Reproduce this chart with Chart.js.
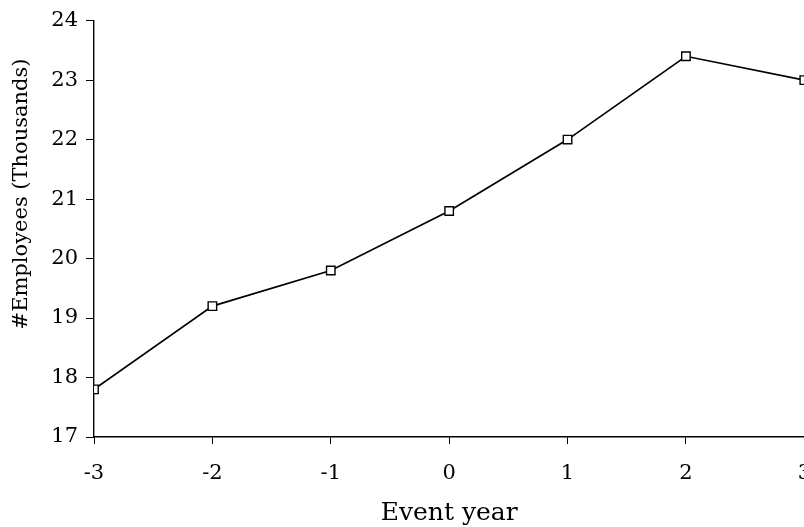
<!DOCTYPE html>
<html>
<head>
<meta charset="utf-8">
<script src="https://cdn.jsdelivr.net/npm/chart.js@4.4.1/dist/chart.umd.min.js"></script>
<style>
  html, body { margin: 0; padding: 0; background: #fff; overflow: hidden; }
  #wrap { width: 828px; height: 527px; position: relative; }
</style>
</head>
<body>
<div id="wrap"><canvas id="empChart"></canvas></div>
<script>
// data
const eventYears = [-3, -2, -1, 0, 1, 2, 3];
const employees = [17.8, 19.2, 19.8, 20.8, 22.0, 23.4, 23.0];
const yTicks = [17, 18, 19, 20, 21, 22, 23, 24];
const yTitle = '#Employees (Thousands)';

const points = eventYears.map((x, i) => ({ x: x, y: employees[i] }));

const serif = "'DejaVu Serif', 'Liberation Serif', serif";

// y title sits a bit above the middle of the axis in the original, so draw it by hand
const yTitlePlugin = {
    id: 'yTitle',
    afterDraw(chart) {
        const ctx = chart.ctx;
        ctx.save();
        ctx.translate(22, 194);
        ctx.rotate(-Math.PI / 2);
        ctx.fillStyle = '#000';
        ctx.font = '21px ' + serif;
        ctx.textAlign = 'center';
        ctx.textBaseline = 'middle';
        ctx.fillText(yTitle, 0, 0);
        ctx.restore();
    }
};

new Chart(document.getElementById('empChart'), {
    type: 'line',
    data: {
        datasets: [{
            data: points,
            borderColor: '#000',
            borderWidth: 1.7,
            pointStyle: 'rect',
            pointRadius: 6,
            pointBackgroundColor: '#fff',
            pointBorderColor: '#000',
            pointBorderWidth: 1.4,
            tension: 0
        }]
    },
    options: {
        responsive: true,
        maintainAspectRatio: false,
        animation: false,
        layout: { padding: { top: 20, right: 0, left: 0, bottom: 0 } },
        plugins: { legend: { display: false }, tooltip: { enabled: false } },
        scales: {
            x: {
                type: 'linear',
                min: -3,
                max: 3,
                ticks: {
                    stepSize: 1,
                    color: '#000',
                    padding: 17,
                    font: { family: serif, size: 21 }
                },
                grid: { drawOnChartArea: false, drawTicks: true, tickLength: 7, color: '#000' },
                border: { color: '#000', width: 1.4 },
                title: {
                    display: true,
                    text: 'Event year',
                    color: '#000',
                    padding: { top: 0, bottom: -1 },
                    font: { family: serif, size: 25 }
                },
                afterFit: scale => { scale.height = 90; }
            },
            y: {
                min: 17,
                max: 24,
                afterBuildTicks: scale => { scale.ticks = yTicks.map(v => ({ value: v })); },
                ticks: {
                    color: '#000',
                    padding: 8,
                    font: { family: serif, size: 21 }
                },
                grid: { drawOnChartArea: false, drawTicks: true, tickLength: 8, color: '#000' },
                border: { color: '#000', width: 1.4 },
                afterFit: scale => { scale.width = 94; }
            }
        }
    },
    plugins: [yTitlePlugin]
});
</script>
</body>
</html>
